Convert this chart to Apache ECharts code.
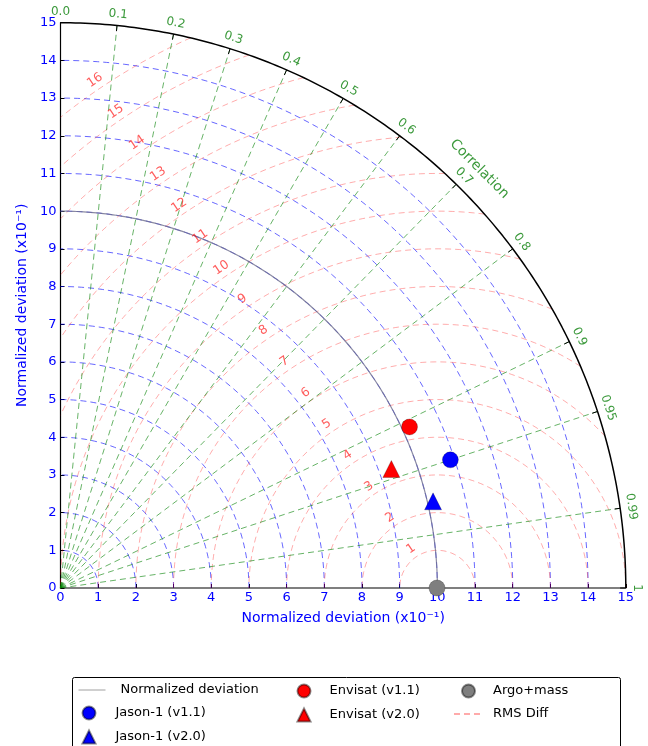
<!DOCTYPE html>
<html><head><meta charset="utf-8">
<script src="https://cdn.jsdelivr.net/npm/echarts@6/dist/echarts.min.js"></script>
<style>html,body{margin:0;padding:0;background:#fff}#c{width:648px;height:746px}</style>
</head><body><div id="c"></div>
<script>
// ---- data ----
const stdArcRadii = [1,2,3,4,5,6,7,8,9,10,11,12,13,14];
const rmsArcRadii = [1,2,3,4,5,6,7,8,9,10,11,12,13,14,15,16];
const corrLineValues = [0.1,0.2,0.3,0.4,0.5,0.6,0.7,0.8,0.9,0.95,0.99];
const corrLabelValues = [0.0,0.1,0.2,0.3,0.4,0.5,0.6,0.7,0.8,0.9,0.95,0.99,1];
const corrLabelTexts = ['0.0','0.1','0.2','0.3','0.4','0.5','0.6','0.7','0.8','0.9','0.95','0.99','1'];
const axisTicks = [0,1,2,3,4,5,6,7,8,9,10,11,12,13,14,15];
const maxStd = 15;
const refStd = 10;
const seriesNames = ['Jason-1 (v1.1)','Jason-1 (v2.0)','Envisat (v1.1)','Envisat (v2.0)','Argo+mass'];
const seriesStd  = [10.89, 10.15, 10.20, 9.33, 9.99];
const seriesCorr = [0.950, 0.974, 0.908, 0.941, 1.000];
const seriesColor = ['#0000ff','#0000ff','#ff0000','#ff0000','#7f7f7f'];
const seriesSymbol = ['circle','triangle','circle','triangle','circle'];

const FONT = 'DejaVu Sans';
const deg = Math.PI/180;
const series = [];

// std arcs (blue dashed)
stdArcRadii.forEach(r => {
  const pts = [];
  for (let a = 0; a <= 90; a += 1) pts.push([r*Math.cos(a*deg), r*Math.sin(a*deg)]);
  series.push({type:'line', name:'stdGrid', data:pts, showSymbol:false, symbol:'none', silent:true, z:2,
    lineStyle:{color:'rgba(0,0,255,0.6)', width:1, type:[6,4]}});
});
// rms arcs (red dashed), centred at reference
rmsArcRadii.forEach(r => {
  const c0 = Math.min(1, (maxStd*maxStd - refStd*refStd - r*r)/(2*refStd*r));
  const p0 = Math.acos(c0);
  const p1 = r > refStd ? Math.acos(-refStd/r) : Math.PI;
  const pts = [];
  const n = 120;
  for (let i = 0; i <= n; i++) {
    const p = p0 + (p1-p0)*i/n;
    pts.push([refStd + r*Math.cos(p), Math.max(0, r*Math.sin(p))]);
  }
  series.push({type:'line', name:'RMS Diff', data:pts, showSymbol:false, symbol:'none', silent:true, z:2,
    lineStyle:{color:'rgba(255,0,0,0.33)', width:1, type:[6,4]}, itemStyle:{color:'rgba(255,0,0,0.33)'}});
});
// correlation lines (green dashed)
corrLineValues.forEach(c => {
  const t = Math.acos(c);
  series.push({type:'line', name:'corrGrid', data:[[0,0],[maxStd*Math.cos(t), maxStd*Math.sin(t)]], showSymbol:false, symbol:'none', silent:true, z:2,
    lineStyle:{color:'rgba(0,128,0,0.6)', width:1, type:[6,4]}});
});
// tick marks on outer arc
corrLabelValues.forEach(c => {
  const t = Math.acos(c);
  series.push({type:'line', name:'corrTick', data:[[14.85*Math.cos(t),14.85*Math.sin(t)],[maxStd*Math.cos(t), maxStd*Math.sin(t)]], showSymbol:false, symbol:'none', silent:true, z:4, clip:false,
    lineStyle:{color:'#000', width:1}});
});
// reference std arc
(function(){
  const pts = [];
  for (let a = 0; a <= 90; a += 0.5) pts.push([refStd*Math.cos(a*deg), refStd*Math.sin(a*deg)]);
  series.push({type:'line', name:'Normalized deviation', data:pts, showSymbol:false, symbol:'none', silent:true, z:3,
    lineStyle:{color:'rgba(110,110,140,0.8)', width:1.2}, itemStyle:{color:'rgba(0,0,0,0)'}});
})();
// outer arc
(function(){
  const pts = [];
  for (let a = 0; a <= 90; a += 0.5) pts.push([maxStd*Math.cos(a*deg), maxStd*Math.sin(a*deg)]);
  series.push({type:'line', name:'outer', data:pts, showSymbol:false, symbol:'none', silent:true, z:4, clip:false,
    lineStyle:{color:'#000', width:1.5}});
})();
// correlation labels
const corrLabelData = corrLabelValues.map((c,i) => {
  const t = Math.acos(c);
  return {value:[15.3*Math.cos(t), 15.3*Math.sin(t)], name:corrLabelTexts[i],
    label:{rotate: t/deg - 90}};
});
corrLabelData.push({value:[15.72*Math.cos(45*deg), 15.72*Math.sin(45*deg)], name:'Correlation',
  label:{rotate:-45, fontSize:14}});
series.push({type:'scatter', name:'corrLabels', data:corrLabelData, symbolSize:0, silent:true, clip:false, z:5,
  label:{show:true, position:'inside', formatter: p => p.name, color:'#0a800a', fontSize:12, fontFamily:FONT}});
// rms labels
const rmsLabelData = rmsArcRadii.map(r => ({value:[refStd + (r+0.25)*Math.cos(124*deg), (r+0.25)*Math.sin(124*deg)], name:String(r)}));
series.push({type:'scatter', name:'rmsLabels', data:rmsLabelData, symbolSize:0, silent:true, clip:false, z:5,
  label:{show:true, position:'inside', formatter: p => p.name, color:'rgba(255,0,0,0.8)', fontSize:12.5, fontFamily:FONT, rotate:34}});
// data points
seriesNames.forEach((nm,i) => {
  const t = Math.acos(seriesCorr[i]);
  series.push({type:'scatter', name:nm, data:[[seriesStd[i]*Math.cos(t), seriesStd[i]*Math.sin(t)]],
    symbol:seriesSymbol[i], symbolSize: seriesSymbol[i]==='triangle'?17:16, clip:false, z:10,
    itemStyle:{color:seriesColor[i], borderColor:'rgba(0,0,0,0.45)', borderWidth:0.5, opacity:1}});
});

const hideSym = {color:'rgba(0,0,0,0)', borderWidth:0, borderColor:'rgba(0,0,0,0)'};
const legendBase = {orient:'vertical', itemHeight:13, itemGap:9, padding:0, selectedMode:false,
  textStyle:{fontFamily:FONT, fontSize:13, color:'#000', lineHeight:13}};

const chart = echarts.init(document.getElementById('c'), null, {renderer:'canvas'});
chart.setOption({
  animation:false,
  textStyle:{fontFamily:FONT},
  grid:{left:60.5, top:22.7, width:565.3, height:565.3, containLabel:false},
  xAxis:{type:'value', min:axisTicks[0], max:axisTicks[axisTicks.length-1], interval:1,
    axisLine:{lineStyle:{color:'#555', width:1.6}}, axisTick:{inside:true, length:4, lineStyle:{color:'#000'}},
    axisLabel:{color:'#0000ff', fontSize:13, fontFamily:FONT, margin:3},
    splitLine:{show:false},
    name:'Normalized deviation (x10\u207B\u00B9)', nameLocation:'middle', nameGap:23,
    nameTextStyle:{color:'#0000ff', fontSize:14, fontFamily:FONT}},
  yAxis:{type:'value', min:axisTicks[0], max:axisTicks[axisTicks.length-1], interval:1,
    axisLine:{lineStyle:{color:'#000', width:1.2}}, axisTick:{inside:true, length:4, lineStyle:{color:'#000'}},
    axisLabel:{color:'#0000ff', fontSize:13, fontFamily:FONT, margin:4},
    splitLine:{show:false},
    name:'Normalized deviation (x10\u207B\u00B9)', nameLocation:'middle', nameGap:31, nameRotate:90,
    nameTextStyle:{color:'#0000ff', fontSize:14, fontFamily:FONT}},
  legend:[
    Object.assign({}, legendBase, {left:78, top:683.5, itemWidth:27,
      textStyle:Object.assign({}, legendBase.textStyle, {padding:[0,0,0,10]}),
      data:[{name:'Normalized deviation', itemStyle:hideSym, lineStyle:{color:'#a0a0a0', width:1}}]}),
    Object.assign({}, legendBase, {left:81.5, top:705.5, itemWidth:13,
      textStyle:Object.assign({}, legendBase.textStyle, {padding:[0,0,0,15]}),
      data:['Jason-1 (v1.1)','Jason-1 (v2.0)']}),
    Object.assign({}, legendBase, {left:296.5, top:683.5, itemWidth:13,
      textStyle:Object.assign({}, legendBase.textStyle, {padding:[0,0,0,14]}),
      data:['Envisat (v1.1)','Envisat (v2.0)']}),
    Object.assign({}, legendBase, {left:453, top:683.5, itemWidth:29,
      textStyle:Object.assign({}, legendBase.textStyle, {padding:[0,0,0,5]}),
      data:['Argo+mass', {name:'RMS Diff', itemStyle:hideSym}]})
  ],
  graphic:[{type:'rect', shape:{x:72.5, y:677.5, width:548, height:90, r:2}, style:{fill:'#fff', stroke:'#000', lineWidth:1}, z:0}],
  series: series
});
</script></body></html>
